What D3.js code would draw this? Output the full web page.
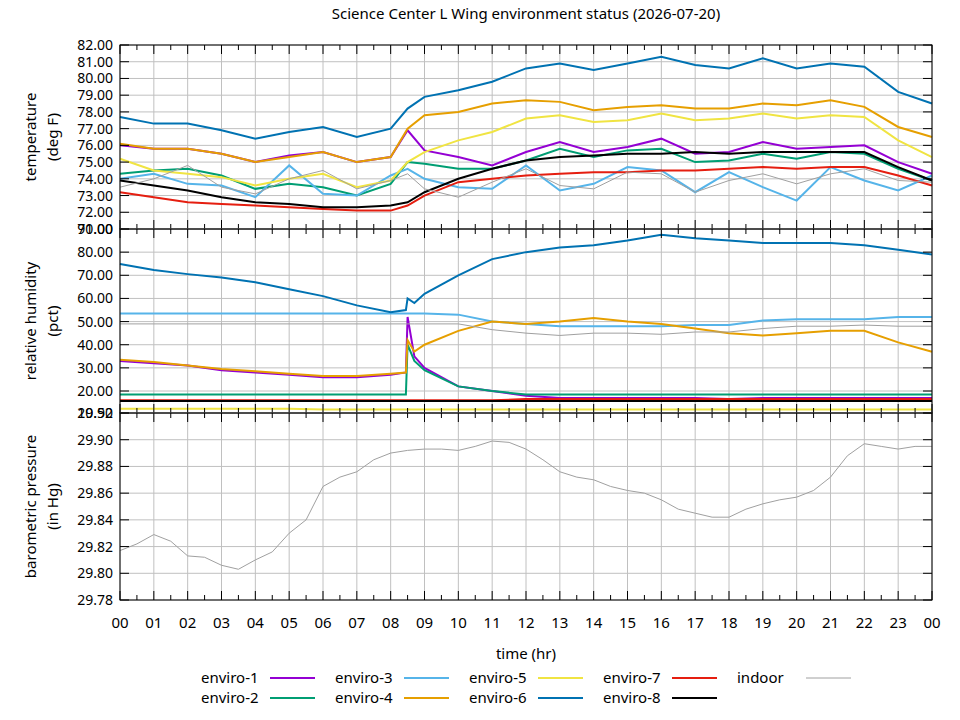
<!DOCTYPE html>
<html>
<head>
<meta charset="utf-8">
<script src="https://cdn.jsdelivr.net/npm/d3@7"></script>
<style>
body { margin: 0; background: #fff; }
text { font-family: "Noto Sans", sans-serif; fill: #000; }
</style>
</head>
<body>
<div id="vis"></div>
<script>
const FRAME_WIDTH = 960;
const FRAME_HEIGHT = 720;
const LEFT = 120, RIGHT = 932;

// series names and colours (gnuplot default palette)
const names = ["enviro-1", "enviro-2", "enviro-3", "enviro-4", "enviro-5",
    "enviro-6", "enviro-7", "enviro-8", "indoor"];
const colors = ["#9400d3", "#009e73", "#56b4e9", "#e69f00", "#f0e442",
    "#0072b2", "#e51e10", "#000000", "#a0a0a0"];

// temperature (deg F)
const tempHours = [0,1,2,3,4,5,6,7,8,8.5,9,10,11,12,13,14,15,16,17,18,19,20,21,22,23,24];
const temp1 = [76.0,75.8,75.8,75.5,75.0,75.4,75.6,75.0,75.3,76.9,75.7,75.3,74.8,75.6,76.2,75.6,75.9,76.4,75.5,75.6,76.2,75.8,75.9,76.0,75.0,74.3];
const temp2 = [74.3,74.5,74.6,74.2,73.4,73.7,73.5,73.0,73.7,75.0,74.9,74.6,74.6,75.1,75.8,75.3,75.7,75.8,75.0,75.1,75.5,75.2,75.6,75.5,74.6,73.9];
const temp3 = [74.0,74.3,73.7,73.6,72.9,74.8,73.1,73.0,74.2,74.6,74.0,73.5,73.4,74.8,73.3,73.7,74.7,74.5,73.2,74.4,73.5,72.7,74.7,73.9,73.3,74.2];
const temp4 = [76.1,75.8,75.8,75.5,75.0,75.3,75.6,75.0,75.3,77.0,77.8,78.0,78.5,78.7,78.6,78.1,78.3,78.4,78.2,78.2,78.5,78.4,78.7,78.3,77.1,76.5];
const temp5 = [75.2,74.5,74.3,74.1,73.6,74.0,74.3,73.5,73.9,75.0,75.6,76.3,76.8,77.6,77.8,77.4,77.5,77.9,77.5,77.6,77.9,77.6,77.8,77.7,76.3,75.3];
const temp6 = [77.7,77.3,77.3,76.9,76.4,76.8,77.1,76.5,77.0,78.2,78.9,79.3,79.8,80.6,80.9,80.5,80.9,81.3,80.8,80.6,81.2,80.6,80.9,80.7,79.2,78.5];
const temp7 = [73.2,72.9,72.6,72.5,72.4,72.3,72.2,72.1,72.1,72.4,73.0,73.8,74.0,74.2,74.3,74.4,74.4,74.5,74.5,74.6,74.7,74.6,74.7,74.7,74.2,73.6];
const temp8 = [73.9,73.6,73.3,72.9,72.6,72.5,72.3,72.3,72.4,72.6,73.2,74.0,74.6,75.1,75.3,75.4,75.5,75.5,75.6,75.5,75.6,75.6,75.6,75.6,74.7,73.9];
const tempIn = [73.5,74.0,74.8,73.5,73.1,74.0,74.5,73.4,73.9,74.3,73.4,72.9,73.8,74.6,73.6,73.4,74.4,74.3,73.2,73.9,74.3,73.7,74.3,74.6,73.9,73.8];

// relative humidity (pct)
const humHours = [0,1,2,3,4,5,6,7,8,8.45,8.5,8.7,9,10,11,12,13,14,15,16,17,18,19,20,21,22,23,24];
const hum1 = [33,32,31,29,28,27,26,26,27,28,52,35,30,22,20,18,17,17,17,17,17,16.5,17,17,17,17,17,17];
const hum2 = [18.5,18.5,18.5,18.5,18.5,18.5,18.5,18.5,18.5,18.5,40,33,29,22,20,18.5,18.5,18.5,18.5,18.5,18.5,18.5,18.5,18.5,18.5,18.5,18.5,18.5];
const hum3 = [53.5,53.5,53.5,53.5,53.5,53.5,53.5,53.5,53.5,53.5,53.5,53.5,53.5,53,50,49,48,48,48,48,48.5,48.5,50.5,51,51,51,52,52];
const hum4 = [33.5,32.5,31,29.5,28.5,27.5,26.5,26.5,27.5,28,42,37,40,46,50,49,50,51.5,50,49,47,45,44,45,46,46,41,37];
const hum5 = [12.3,12.3,12.3,12.3,12.3,12.3,12.0,12.0,12.0,12.0,12.0,12.0,12.0,12.0,12.0,12.0,12.0,12.0,12.0,12.0,12.0,12.0,12.0,12.0,12.0,12.0,12.0,12.0];
const hum6 = [74.9,72.3,70.5,69,67,64,61,57,54,55,60,58,62,70,77,80,82,83,85,87.5,86,85,84,84,84,83,81,79];
const hum7 = [16,16,16,16,16,16,16,16,16,16,16,16,16,16,16,16.5,16.5,16.5,16.5,16.5,16.5,16.5,16.5,16.5,16.5,16.5,16.5,16.5];
const hum8 = [15.7,15.7,15.7,15.7,15.7,15.7,15.7,15.7,15.7,15.7,15.7,15.7,15.7,15.7,15.7,15.7,15.7,15.7,15.7,15.7,15.7,15.7,15.7,15.7,15.7,15.7,15.7,15.7];
const humIn = [49,49,49,49,49,49,49,49,49,49,49,49,49,49,46.5,45,44,45,45,44.5,45.5,45.5,47,48,48,48.5,48,48];

// barometric pressure (in Hg), indoor only, every half hour
const presHours = [0,0.5,1,1.5,2,2.5,3,3.5,4,4.5,5,5.5,6,6.5,7,7.5,8,8.5,9,9.5,10,10.5,11,11.5,12,12.5,13,13.5,14,14.5,15,15.5,16,16.5,17,17.5,18,18.5,19,19.5,20,20.5,21,21.5,22,22.5,23,23.5,24];
const presIn = [29.817,29.822,29.829,29.824,29.813,29.812,29.806,29.803,29.810,29.816,29.830,29.840,29.865,29.872,29.876,29.885,29.890,29.892,29.893,29.893,29.892,29.895,29.899,29.898,29.893,29.885,29.876,29.872,29.870,29.865,29.862,29.860,29.855,29.848,29.845,29.842,29.842,29.848,29.852,29.855,29.857,29.862,29.872,29.888,29.897,29.895,29.893,29.895,29.895];

const xTicks = d3.range(0, 25);

const svg = d3.select("#vis").append("svg")
    .attr("width", FRAME_WIDTH)
    .attr("height", FRAME_HEIGHT);

const X = d3.scaleLinear().domain([0, 24]).range([LEFT, RIGHT]);

const panels = [
    {y: d3.scaleLinear().domain([71, 82]).range([229, 45]),
     ticks: d3.range(71, 83, 1), label: ["temperature", "(deg F)"],
     hours: tempHours,
     series: [temp1, temp2, temp3, temp4, temp5, temp6, temp7, temp8, tempIn]},
    {y: d3.scaleLinear().domain([10.5, 90]).range([413, 229]),
     ticks: [10.5, 20, 30, 40, 50, 60, 70, 80, 90], label: ["relative humidity", "(pct)"],
     hours: humHours,
     series: [hum1, hum2, hum3, hum4, hum5, hum6, hum7, hum8, humIn]},
    {y: d3.scaleLinear().domain([29.78, 29.92]).range([600, 413]),
     ticks: [29.78, 29.80, 29.82, 29.84, 29.86, 29.88, 29.90, 29.92], label: ["barometric pressure", "(in Hg)"],
     hours: presHours,
     series: [null, null, null, null, null, null, null, null, presIn]}
];

panels.forEach((p) => {
    const [y0, y1] = p.y.range();
    const g = svg.append("g");

    // grid
    g.selectAll(".vg").data(xTicks).enter().append("line")
        .attr("x1", (d) => X(d)).attr("x2", (d) => X(d))
        .attr("y1", y1).attr("y2", y0)
        .attr("stroke", "#c0c0c0").attr("stroke-width", 1);
    g.selectAll(".hg").data(p.ticks).enter().append("line")
        .attr("x1", LEFT).attr("x2", RIGHT)
        .attr("y1", (d) => p.y(d)).attr("y2", (d) => p.y(d))
        .attr("stroke", "#c0c0c0").attr("stroke-width", 1);

    // data lines
    p.series.forEach((vals, i) => {
        if (!vals) return;
        const line = d3.line()
            .x((d, k) => X(p.hours[k]))
            .y((d) => p.y(d));
        g.append("path")
            .datum(vals)
            .attr("d", line)
            .attr("fill", "none")
            .attr("stroke", colors[i])
            .attr("stroke-width", i === 8 ? 1 : 2);
    });

    // frame
    g.append("rect")
        .attr("x", LEFT).attr("y", y1)
        .attr("width", RIGHT - LEFT).attr("height", y0 - y1)
        .attr("fill", "none").attr("stroke", "#000");

    // y ticks + labels
    p.ticks.forEach((t) => {
        g.append("line").attr("x1", LEFT).attr("x2", LEFT + 9)
            .attr("y1", p.y(t)).attr("y2", p.y(t)).attr("stroke", "#000");
        g.append("line").attr("x1", RIGHT - 9).attr("x2", RIGHT)
            .attr("y1", p.y(t)).attr("y2", p.y(t)).attr("stroke", "#000");
        g.append("text").attr("x", LEFT - 7).attr("y", p.y(t) + 5)
            .attr("text-anchor", "end").attr("font-size", 14)
            .text(t.toFixed(2));
    });

    // x ticks (major + half hour)
    d3.range(0, 24.5, 0.5).forEach((h) => {
        const len = (h % 1 === 0) ? 9 : 5;
        g.append("line").attr("x1", X(h)).attr("x2", X(h))
            .attr("y1", y0).attr("y2", y0 - len).attr("stroke", "#000");
        g.append("line").attr("x1", X(h)).attr("x2", X(h))
            .attr("y1", y1).attr("y2", y1 + len).attr("stroke", "#000");
    });

    // y title
    const cy = (y0 + y1) / 2;
    p.label.forEach((s, k) => {
        svg.append("text")
            .attr("transform", "translate(" + (36 + k * 22) + "," + cy + ") rotate(-90)")
            .attr("text-anchor", "middle").attr("font-size", 15)
            .text(s);
    });
});

// x tick labels
svg.selectAll(".xl").data(xTicks).enter().append("text")
    .attr("x", (d) => X(d)).attr("y", 628)
    .attr("text-anchor", "middle").attr("font-size", 15)
    .text((d) => d3.format("02d")(d % 24));

svg.append("text").attr("x", (LEFT + RIGHT) / 2).attr("y", 659)
    .attr("text-anchor", "middle").attr("font-size", 15).text("time (hr)");

svg.append("text").attr("x", (LEFT + RIGHT) / 2).attr("y", 19)
    .attr("text-anchor", "middle").attr("font-size", 15)
    .text("Science Center L Wing environment status (2026-07-20)");

// legend
names.forEach((n, i) => {
    const col = Math.floor(i / 2), row = i % 2;
    const lx = 201 + col * 134, ly = 678 + row * 20;
    svg.append("text").attr("x", lx).attr("y", ly + 5)
        .attr("font-size", 15).text(n);
    svg.append("line").attr("x1", lx + 69).attr("x2", lx + 114)
        .attr("y1", ly).attr("y2", ly)
        .attr("stroke", colors[i]).attr("stroke-width", i === 8 ? 1 : 2);
});
</script>
</body>
</html>
